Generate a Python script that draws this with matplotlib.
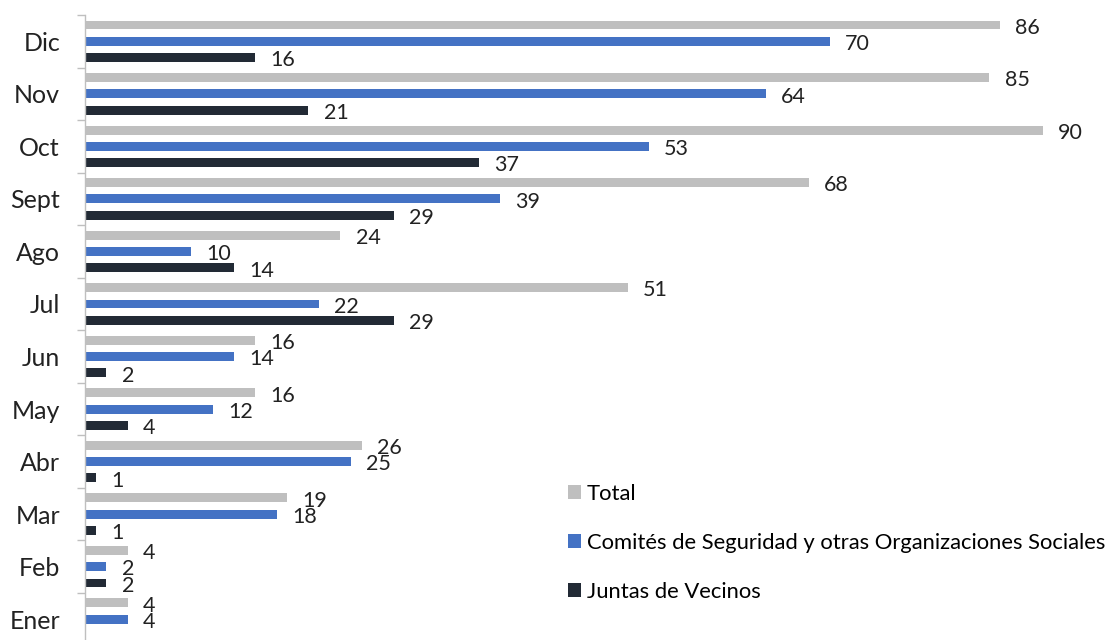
import numpy as np
import matplotlib
matplotlib.use("Agg")
import matplotlib.pyplot as plt
from matplotlib.patches import Patch

plt.rcParams['font.family'] = ['Lato', 'DejaVu Sans']

# Months bottom to top
months = ['Ener', 'Feb', 'Mar', 'Abr', 'May', 'Jun', 'Jul', 'Ago', 'Sept', 'Oct', 'Nov', 'Dic']
total = [4, 4, 19, 26, 16, 16, 51, 24, 68, 90, 85, 86]
comites = [4, 2, 18, 25, 12, 14, 22, 10, 39, 53, 64, 70]
juntas = [0, 2, 1, 1, 4, 2, 29, 14, 29, 37, 21, 16]

series = [('Total', total, '#BFBFBF'),
          ('Comités de Seguridad y otras Organizaciones Sociales', comites, '#4472C4'),
          ('Juntas de Vecinos', juntas, '#222A35')]

W, H = 1113, 640
fig = plt.figure(figsize=(W / 100, H / 100), dpi=100)
ax = fig.add_axes([85 / W, (H - 645.5) / H, (W - 85) / W, (645.5 - 15) / H])

y = np.arange(len(months))
offsets = [0.31, 0.0, -0.31]
bar_h = 0.17

for (name, vals, color), off in zip(series, offsets):
    bars = ax.barh(y + off, vals, height=bar_h, color=color, label=name)
    for b, v in zip(bars, vals):
        if v == 0:
            continue
        ax.annotate(str(v), xy=(b.get_width(), b.get_y() + b.get_height() / 2),
                    xytext=(11, -2), textcoords='offset points',
                    va='center', ha='left', fontsize=15.5, color='#222222')

ax.set_xlim(0, (W - 85) / 10.64)
ax.set_ylim(-0.5, len(months) - 0.5)
ax.set_yticks(y)
ax.set_yticklabels(months, fontsize=18, color='#222222')
ax.set_yticks(np.arange(-0.5, len(months)), minor=True)
ax.tick_params(axis='y', which='major', length=0, pad=18)
ax.tick_params(axis='y', which='minor', length=6, color='#BFBFBF', width=1)
ax.set_xticks([])
for s in ['top', 'right', 'bottom']:
    ax.spines[s].set_visible(False)
ax.spines['left'].set_color('#BFBFBF')
ax.spines['left'].set_linewidth(1)

handles = [Patch(facecolor=c, label=n) for n, _, c in series]
fig.legend(handles=handles, loc='upper left', bbox_to_anchor=(568 / W, 1 - 484 / H),
           frameon=False, fontsize=15.8, labelspacing=1.32, handlelength=0.6,
           handleheight=0.6, handletextpad=0.25, borderaxespad=0, borderpad=0)

fig.savefig('out.png', dpi=100)
